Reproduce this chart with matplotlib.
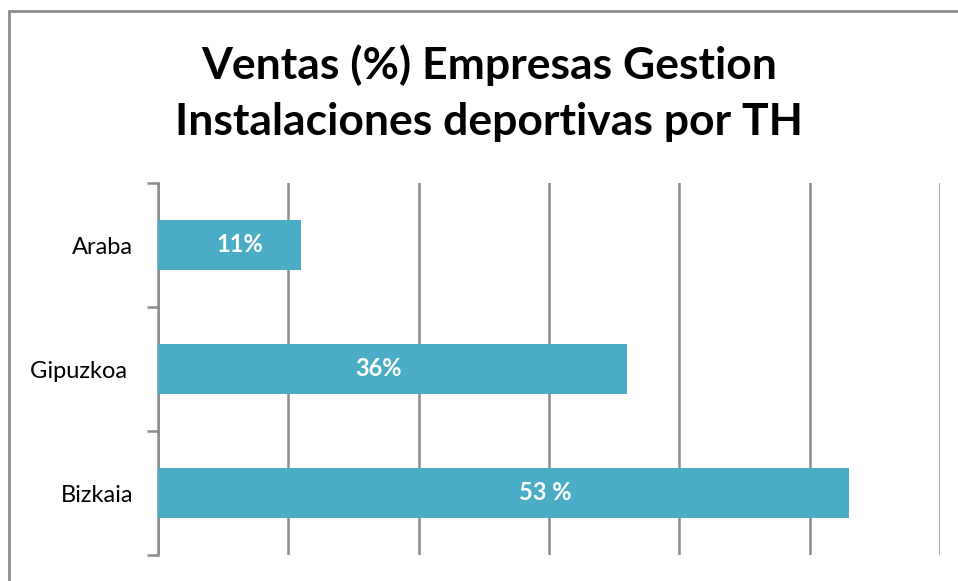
import matplotlib
matplotlib.use("Agg")
import matplotlib.pyplot as plt
from matplotlib.patches import Rectangle

categories = ["Araba", "Gipuzkoa ", "Bizkaia"]
values = [11, 36, 53]
labels = ["11%", "36%", "53 %"]
label_frac = [0.57, 0.47, 0.56]

title = "Ventas (%) Empresas Gestion\nInstalaciones deportivas por TH"

W, H = 958, 581
fig = plt.figure(figsize=(W / 100, H / 100), dpi=100)
fig.patch.set_facecolor("white")

ax = fig.add_axes([158 / W, 1 - 555 / H, (940 - 158) / W, (555 - 183) / H])
ypos = list(range(len(categories)))
ax.barh(ypos, values, height=0.4, color="#4BACC6", zorder=3)
ax.set_xlim(0, 60)
ax.set_ylim(len(categories) - 0.5, -0.5)

ax.set_xticks(range(0, 61, 10))
ax.tick_params(axis="x", length=0, labelbottom=False)
ax.xaxis.grid(True, color="#8c8c8c", linewidth=1.8, zorder=0)

ax.set_yticks(ypos)
ax.set_yticklabels(categories, fontfamily="Lato", fontsize=17)
ax.tick_params(axis="y", which="major", length=0, pad=18)
ax.set_yticks([i - 0.5 for i in range(len(categories) + 1)], minor=True)
ax.tick_params(axis="y", which="minor", length=8, width=1.8, color="#8c8c8c", direction="out")

for s in ["top", "right", "bottom"]:
    ax.spines[s].set_visible(False)
ax.spines["left"].set_color("#8c8c8c")
ax.spines["left"].set_linewidth(1.8)

for y, v, lab, f in zip(ypos, values, labels, label_frac):
    ax.text(v * f, y, lab, color="white", fontweight="bold", fontfamily="Lato",
            fontsize=17, ha="center", va="center", zorder=4)

fig.text(489 / W, 1 - 93 / H, title, ha="center", va="center", fontfamily="Lato",
         fontweight="bold", fontsize=32, linespacing=1.5)

fig.add_artist(Rectangle((9 / W, -0.1), 1.2, (H - 11) / H + 0.1, transform=fig.transFigure,
                         fill=False, edgecolor="#8c8c8c", linewidth=2))

fig.savefig("out.png", dpi=100)
